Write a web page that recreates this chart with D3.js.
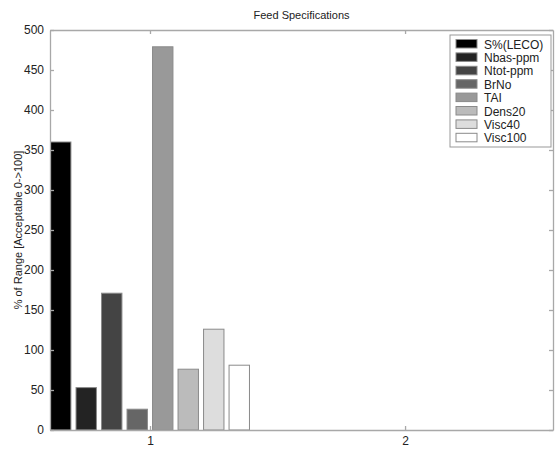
<!DOCTYPE html>
<html>
<head>
<meta charset="utf-8">
<script src="https://cdn.jsdelivr.net/npm/d3@7"></script>
<style>
  html, body { margin: 0; padding: 0; background: #fff; }
  text { font-family: Arial, "Liberation Sans", Helvetica, sans-serif; }
</style>
</head>
<body>
<svg id="chart" width="555" height="449"></svg>
<script>
// Feed specification results, one bar per property, grouped at x = 1 and 2
const series = ["S%(LECO)", "Nbas-ppm", "Ntot-ppm", "BrNo", "TAI", "Dens20", "Visc40", "Visc100"];
const group1 = [360, 53, 171, 26, 479, 76, 126, 81];
const group2 = [0, 0, 0, 0, 0, 0, 0, 0];
const groups = [1, 2];
const yTicks = [0, 50, 100, 150, 200, 250, 300, 350, 400, 450, 500];
const fills = ["#000000", "#232323", "#444444", "#666666", "#999999", "#bbbbbb", "#dddddd", "#ffffff"];

const svg = d3.select("#chart");
const margin = { left: 50, right: 2, top: 30, bottom: 19 };
const W = 555, H = 449;

const x = d3.scaleLinear().domain([0.608, 2.58]).range([margin.left, W - margin.right]);
const y = d3.scaleLinear().domain([0, 500]).range([H - margin.bottom, margin.top]);

const values = [group1, group2];
const step = 0.1, barW = 0.08;

// bars
values.forEach((vals, gi) => {
  svg.append("g").selectAll("rect").data(vals).join("rect")
    .attr("x", (d, i) => x(groups[gi] + (i - 3.5) * step - barW / 2))
    .attr("width", x(barW) - x(0))
    .attr("y", d => y(d))
    .attr("height", d => y(0) - y(d))
    .attr("fill", (d, i) => fills[i])
    .attr("stroke", "#8a8a8a")
    .attr("stroke-width", 1)
    .attr("display", d => d > 0 ? null : "none");
});

const axisColor = "#a8a8a8";
const textColor = "#222";

// left axis
const yAxis = svg.append("g").attr("transform", `translate(${margin.left},0)`)
  .call(d3.axisLeft(y).tickValues(yTicks).tickSizeInner(-4).tickSizeOuter(0).tickPadding(6));
// bottom axis
const xAxis = svg.append("g").attr("transform", `translate(0,${H - margin.bottom})`)
  .call(d3.axisBottom(x).tickValues(groups).tickFormat(d3.format("d")).tickSizeInner(-4).tickSizeOuter(0).tickPadding(6));
// top & right mirror ticks
const topAxis = svg.append("g").attr("transform", `translate(0,${margin.top})`)
  .call(d3.axisTop(x).tickValues(groups).tickFormat("").tickSizeInner(-4).tickSizeOuter(0));
const rightAxis = svg.append("g").attr("transform", `translate(${W - margin.right},0)`)
  .call(d3.axisRight(y).tickValues(yTicks).tickFormat("").tickSizeInner(-4).tickSizeOuter(0));

[yAxis, xAxis, topAxis, rightAxis].forEach(a => {
  a.selectAll("path, line").attr("stroke", axisColor).attr("stroke-width", 1.3);
  a.selectAll("text").attr("fill", textColor).style("font-size", "12px")
    .style("font-family", "Arial, 'Liberation Sans', sans-serif");
});

// title
svg.append("text").attr("x", (margin.left + W - margin.right) / 2).attr("y", 19)
  .attr("text-anchor", "middle").attr("fill", textColor).style("font-size", "11px")
  .text("Feed Specifications");

// y label
svg.append("text")
  .attr("transform", `translate(22,${(margin.top + H - margin.bottom) / 2}) rotate(-90)`)
  .attr("text-anchor", "middle").attr("fill", textColor).style("font-size", "11px")
  .text("% of Range [Acceptable 0->100]");

// legend
const lg = svg.append("g").attr("transform", "translate(450,35)");
lg.append("rect").attr("width", 101).attr("height", 112)
  .attr("fill", "#fff").attr("stroke", "#999").attr("stroke-width", 1);
const item = lg.selectAll("g.item").data(series).join("g")
  .attr("transform", (d, i) => `translate(0,${4 + i * 13.4})`);
item.append("rect").attr("x", 6).attr("y", 0.5).attr("width", 21).attr("height", 8.5)
  .attr("fill", (d, i) => fills[i]).attr("stroke", "#8a8a8a").attr("stroke-width", 1);
item.append("text").attr("x", 34).attr("y", 9.5).attr("fill", textColor)
  .style("font-size", "12px").text(d => d);
</script>
</body>
</html>
